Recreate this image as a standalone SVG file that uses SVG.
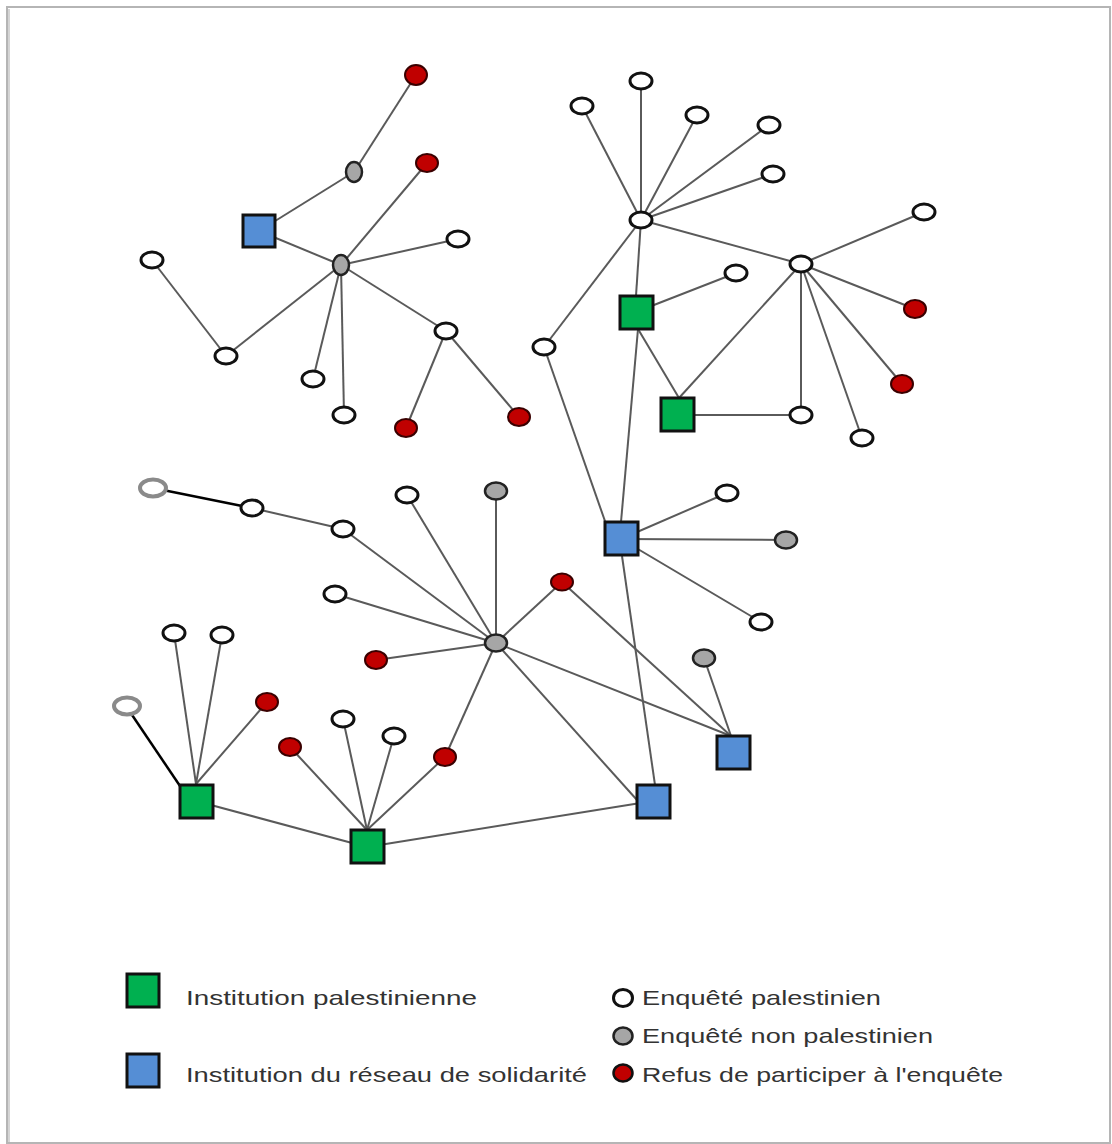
<svg xmlns="http://www.w3.org/2000/svg" width="1112" height="1144" viewBox="0 0 1112 1144">
<style>
.e{stroke:#5a5a5a;stroke-width:2;fill:none}
.k{stroke:#000;stroke-width:2.5;fill:none}
.w{fill:#fff;stroke:#111;stroke-width:3}
.g{fill:#a6a6a6;stroke:#222;stroke-width:2.5}
.r{fill:#c00000;stroke:#3a0000;stroke-width:2}
.o{fill:#fff;stroke:#8a8a8a;stroke-width:4}
.sg{fill:#00b050;stroke:#111;stroke-width:3}
.sb{fill:#558ed5;stroke:#111;stroke-width:3}
.t{font-family:"Liberation Sans",Arial,sans-serif;font-size:21px;fill:#333}
</style>
<rect x="0" y="0" width="1112" height="1144" fill="#fff"/>
<rect x="7" y="7" width="1103" height="1136" fill="none" stroke="#b5b5b5" stroke-width="2"/>
<line x1="9" y1="9" x2="9" y2="1142" stroke="#d5d5d5" stroke-width="2"/>
<g id="connectors">
<line class="e" x1="416" y1="75" x2="354" y2="172"/>
<line class="e" x1="354" y1="172" x2="259" y2="231"/>
<line class="e" x1="259" y1="231" x2="341" y2="265"/>
<line class="e" x1="341" y1="265" x2="427" y2="163"/>
<line class="e" x1="341" y1="265" x2="458" y2="239"/>
<line class="e" x1="341" y1="265" x2="226" y2="356"/>
<line class="e" x1="226" y1="356" x2="152" y2="260"/>
<line class="e" x1="341" y1="265" x2="313" y2="379"/>
<line class="e" x1="341" y1="265" x2="344" y2="415"/>
<line class="e" x1="341" y1="265" x2="446" y2="331"/>
<line class="e" x1="446" y1="331" x2="406" y2="428"/>
<line class="e" x1="446" y1="331" x2="519" y2="417"/>
<line class="e" x1="641" y1="220" x2="641" y2="81"/>
<line class="e" x1="641" y1="220" x2="582" y2="106"/>
<line class="e" x1="641" y1="220" x2="697" y2="115"/>
<line class="e" x1="641" y1="220" x2="769" y2="125"/>
<line class="e" x1="641" y1="220" x2="773" y2="174"/>
<line class="e" x1="641" y1="220" x2="801" y2="264"/>
<line class="e" x1="641" y1="220" x2="544" y2="347"/>
<line class="e" x1="641" y1="220" x2="636" y2="296"/>
<line class="e" x1="636" y1="312" x2="736" y2="273"/>
<line class="e" x1="638" y1="329" x2="679" y2="398"/>
<line class="e" x1="638" y1="329" x2="621" y2="522"/>
<line class="e" x1="544" y1="347" x2="606" y2="524"/>
<line class="e" x1="801" y1="264" x2="924" y2="212"/>
<line class="e" x1="801" y1="264" x2="915" y2="309"/>
<line class="e" x1="801" y1="264" x2="902" y2="384"/>
<line class="e" x1="801" y1="264" x2="862" y2="438"/>
<line class="e" x1="801" y1="264" x2="801" y2="415"/>
<line class="e" x1="801" y1="264" x2="679" y2="398"/>
<line class="e" x1="677" y1="415" x2="801" y2="415"/>
<line class="k" x1="153" y1="488" x2="252" y2="508"/>
<line class="e" x1="252" y1="508" x2="343" y2="529"/>
<line class="e" x1="343" y1="529" x2="496" y2="643"/>
<line class="e" x1="407" y1="495" x2="496" y2="643"/>
<line class="e" x1="496" y1="491" x2="496" y2="643"/>
<line class="e" x1="335" y1="594" x2="496" y2="643"/>
<line class="e" x1="376" y1="660" x2="496" y2="643"/>
<line class="e" x1="496" y1="643" x2="562" y2="582"/>
<line class="e" x1="496" y1="643" x2="445" y2="757"/>
<line class="e" x1="496" y1="643" x2="637" y2="800"/>
<line class="e" x1="496" y1="643" x2="731" y2="736"/>
<line class="e" x1="562" y1="582" x2="731" y2="736"/>
<line class="e" x1="704" y1="658" x2="731" y2="736"/>
<line class="e" x1="621" y1="539" x2="727" y2="493"/>
<line class="e" x1="621" y1="539" x2="786" y2="540"/>
<line class="e" x1="621" y1="539" x2="761" y2="622"/>
<line class="e" x1="622" y1="556" x2="655" y2="785"/>
<line class="e" x1="196" y1="784" x2="174" y2="633"/>
<line class="e" x1="196" y1="784" x2="222" y2="635"/>
<line class="e" x1="196" y1="784" x2="267" y2="702"/>
<line class="k" x1="180" y1="786" x2="126" y2="706"/>
<line class="e" x1="196" y1="801" x2="367" y2="847"/>
<line class="e" x1="367" y1="830" x2="290" y2="747"/>
<line class="e" x1="367" y1="830" x2="343" y2="719"/>
<line class="e" x1="367" y1="830" x2="394" y2="736"/>
<line class="e" x1="367" y1="830" x2="445" y2="757"/>
<line class="e" x1="367" y1="847" x2="653" y2="801"/>
</g>
<g id="nodes">
<g id="n1"><ellipse class="r" cx="416" cy="75" rx="11" ry="10"/></g>
<g id="n2"><ellipse class="g" cx="354" cy="172" rx="8" ry="10"/></g>
<g id="n3"><ellipse class="r" cx="427" cy="163" rx="11" ry="9"/></g>
<g id="n4"><rect class="sb" x="243" y="215" width="32" height="32"/></g>
<g id="n5"><ellipse class="g" cx="341" cy="265" rx="8" ry="10"/></g>
<g id="n6"><ellipse class="w" cx="458" cy="239" rx="11" ry="8"/></g>
<g id="n7"><ellipse class="w" cx="152" cy="260" rx="11" ry="8"/></g>
<g id="n8"><ellipse class="w" cx="226" cy="356" rx="11" ry="8"/></g>
<g id="n9"><ellipse class="w" cx="313" cy="379" rx="11" ry="8"/></g>
<g id="n10"><ellipse class="w" cx="344" cy="415" rx="11" ry="8"/></g>
<g id="n11"><ellipse class="w" cx="446" cy="331" rx="11" ry="8"/></g>
<g id="n12"><ellipse class="r" cx="406" cy="428" rx="11" ry="9"/></g>
<g id="n13"><ellipse class="r" cx="519" cy="417" rx="11" ry="9"/></g>
<g id="n14"><ellipse class="w" cx="641" cy="81" rx="11" ry="8"/></g>
<g id="n15"><ellipse class="w" cx="582" cy="106" rx="11" ry="8"/></g>
<g id="n16"><ellipse class="w" cx="697" cy="115" rx="11" ry="8"/></g>
<g id="n17"><ellipse class="w" cx="769" cy="125" rx="11" ry="8"/></g>
<g id="n18"><ellipse class="w" cx="773" cy="174" rx="11" ry="8"/></g>
<g id="n19"><ellipse class="w" cx="641" cy="220" rx="11" ry="8"/></g>
<g id="n20"><ellipse class="w" cx="801" cy="264" rx="11" ry="8"/></g>
<g id="n21"><ellipse class="w" cx="924" cy="212" rx="11" ry="8"/></g>
<g id="n22"><ellipse class="w" cx="736" cy="273" rx="11" ry="8"/></g>
<g id="n23"><rect class="sg" x="620" y="296" width="33" height="33"/></g>
<g id="n24"><ellipse class="w" cx="544" cy="347" rx="11" ry="8"/></g>
<g id="n25"><ellipse class="r" cx="915" cy="309" rx="11" ry="9"/></g>
<g id="n26"><ellipse class="r" cx="902" cy="384" rx="11" ry="9"/></g>
<g id="n27"><rect class="sg" x="661" y="398" width="33" height="33"/></g>
<g id="n28"><ellipse class="w" cx="801" cy="415" rx="11" ry="8"/></g>
<g id="n29"><ellipse class="w" cx="862" cy="438" rx="11" ry="8"/></g>
<g id="n30"><ellipse class="o" cx="153" cy="488" rx="13" ry="8.5"/></g>
<g id="n31"><ellipse class="w" cx="252" cy="508" rx="11" ry="8"/></g>
<g id="n32"><ellipse class="w" cx="343" cy="529" rx="11" ry="8"/></g>
<g id="n33"><ellipse class="w" cx="407" cy="495" rx="11" ry="8"/></g>
<g id="n34"><ellipse class="g" cx="496" cy="491" rx="11" ry="8.5"/></g>
<g id="n35"><ellipse class="w" cx="335" cy="594" rx="11" ry="8"/></g>
<g id="n36"><ellipse class="g" cx="496" cy="643" rx="11" ry="8.5"/></g>
<g id="n37"><ellipse class="r" cx="562" cy="582" rx="11" ry="8.5"/></g>
<g id="n38"><ellipse class="r" cx="376" cy="660" rx="11" ry="9"/></g>
<g id="n39"><rect class="sb" x="605" y="522" width="33" height="33"/></g>
<g id="n40"><ellipse class="w" cx="727" cy="493" rx="11" ry="8"/></g>
<g id="n41"><ellipse class="g" cx="786" cy="540" rx="11" ry="8.5"/></g>
<g id="n42"><ellipse class="w" cx="761" cy="622" rx="11" ry="8"/></g>
<g id="n43"><ellipse class="g" cx="704" cy="658" rx="11" ry="8.5"/></g>
<g id="n44"><rect class="sb" x="717" y="736" width="33" height="33"/></g>
<g id="n45"><rect class="sb" x="637" y="785" width="33" height="33"/></g>
<g id="n46"><ellipse class="w" cx="174" cy="633" rx="11" ry="8"/></g>
<g id="n47"><ellipse class="w" cx="222" cy="635" rx="11" ry="8"/></g>
<g id="n48"><ellipse class="o" cx="127" cy="706" rx="13" ry="8.5"/></g>
<g id="n49"><ellipse class="r" cx="267" cy="702" rx="11" ry="9"/></g>
<g id="n50"><ellipse class="w" cx="343" cy="719" rx="11" ry="8"/></g>
<g id="n51"><ellipse class="w" cx="394" cy="736" rx="11" ry="8"/></g>
<g id="n52"><ellipse class="r" cx="290" cy="747" rx="11" ry="9"/></g>
<g id="n53"><ellipse class="r" cx="445" cy="757" rx="11" ry="9"/></g>
<g id="n54"><rect class="sg" x="180" y="785" width="33" height="33"/></g>
<g id="n55"><rect class="sg" x="351" y="830" width="33" height="33"/></g>
</g>
<g id="legend">
<rect class="sg" x="127" y="974" width="32" height="33"/>
<text class="t" x="186" y="1005" textLength="291" lengthAdjust="spacingAndGlyphs">Institution palestinienne</text>
<rect class="sb" x="127" y="1054" width="32" height="33"/>
<text class="t" x="186" y="1082" textLength="401" lengthAdjust="spacingAndGlyphs">Institution du réseau de solidarité</text>
<ellipse class="w" cx="623" cy="998" rx="9.5" ry="8.5"/>
<text class="t" x="642" y="1005" textLength="239" lengthAdjust="spacingAndGlyphs">Enquêté palestinien</text>
<ellipse class="g" cx="623" cy="1036" rx="9.5" ry="8.5"/>
<text class="t" x="642" y="1043" textLength="291" lengthAdjust="spacingAndGlyphs">Enquêté non palestinien</text>
<ellipse class="r" cx="623" cy="1073" rx="9.5" ry="8.5" style="stroke:#111;stroke-width:2.5"/>
<text class="t" x="642" y="1082" textLength="361" lengthAdjust="spacingAndGlyphs">Refus de participer à l'enquête</text>
</g>
</svg>
